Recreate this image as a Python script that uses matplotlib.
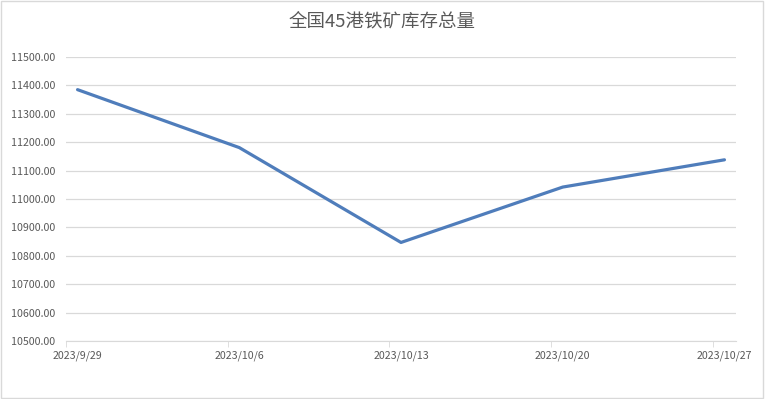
import numpy as np
import matplotlib.pyplot as plt
from matplotlib.patches import Rectangle

plt.rcParams['font.family'] = ['Noto Sans CJK SC', 'DejaVu Sans']

dates = ['2023/9/29', '2023/10/6', '2023/10/13', '2023/10/20', '2023/10/27']
days = [0, 7, 14, 21, 28]
stock = [11385, 11181, 10847, 11042, 11138]

fig = plt.figure(figsize=(7.65, 3.99), dpi=100)
ax = fig.add_axes([66/765, 1-341/399, (736-66)/765, (341-57)/399])

ax.plot(days, stock, color='#4f7dbb', lw=2.3, solid_joinstyle='round', solid_capstyle='round')

ax.set_xlim(-0.5, 28.5)
ax.set_ylim(10500, 11500)
ax.set_yticks(np.arange(10500, 11501, 100))
ax.set_yticklabels(['%.2f' % v for v in np.arange(10500, 11501, 100)])
ax.set_xticks(days)
ax.set_xticklabels(dates)
ax.set_xticks([d - 0.5 for d in days], minor=True)
ax.tick_params(axis='x', which='major', length=0, pad=7, labelsize=7.7, labelcolor='#595959')
ax.tick_params(axis='x', which='minor', length=4, color='#d9d9d9')
ax.tick_params(axis='y', length=0, pad=8, labelsize=7.7, labelcolor='#595959')

ax.grid(axis='y', color='#d9d9d9', lw=0.9)
ax.set_axisbelow(True)
for s in ['top', 'right', 'left']:
    ax.spines[s].set_visible(False)
ax.spines['bottom'].set_color('#d9d9d9')

fig.text(0.5, 1-21/399, '全国45港铁矿库存总量', ha='center', va='center',
         fontsize=13.3, color='#595959')
fig.patches.append(Rectangle((0.001, 0.002), 0.997, 0.996, transform=fig.transFigure,
                             fill=False, edgecolor='#d9d9d9', lw=1))

fig.savefig('out.png', dpi=100)
